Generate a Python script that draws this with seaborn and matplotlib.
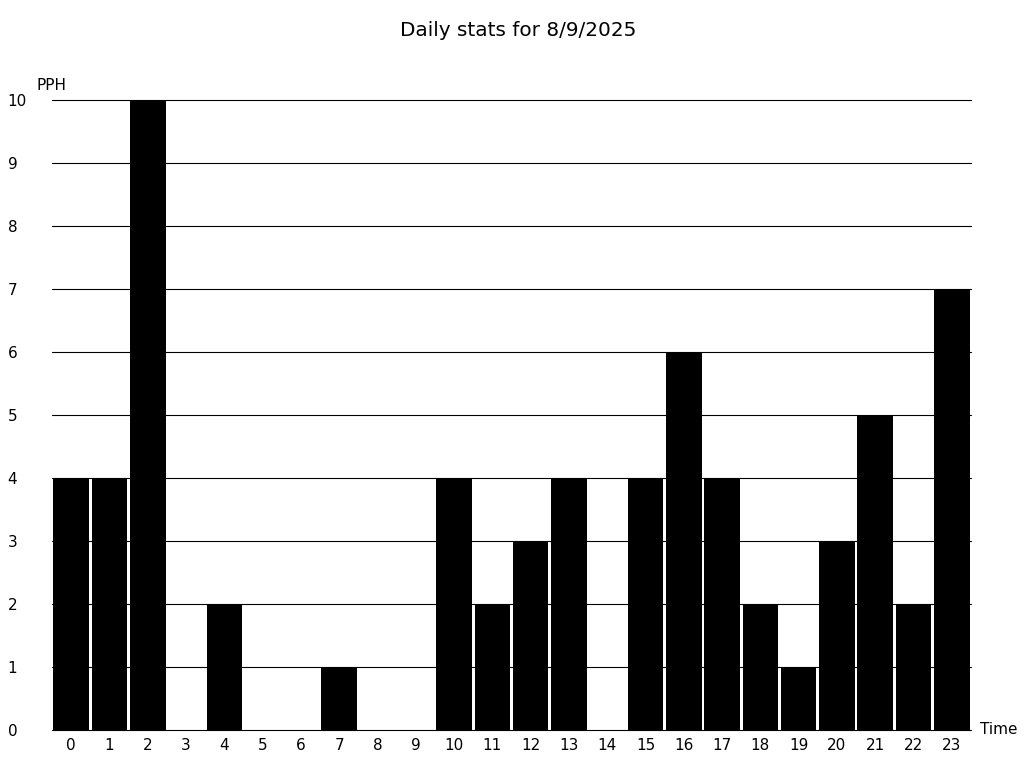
import pandas as pd
import matplotlib
matplotlib.use('Agg')
import matplotlib.pyplot as plt
import seaborn as sns

sns.set_style('white')
plt.rcParams['font.family'] = ['DejaVu Sans']
plt.rcParams['text.color'] = 'black'
plt.rcParams['xtick.color'] = 'black'
plt.rcParams['ytick.color'] = 'black'

hours = list(range(24))
pph = [4, 4, 10, 0, 2, 0, 0, 1, 0, 0, 4, 2, 3, 4, 0, 4, 6, 4, 2, 1, 3, 5, 2, 7]
y_ticks = list(range(11))

df = pd.DataFrame({'Time': hours, 'PPH': pph})

fig = plt.figure(figsize=(10.24, 7.68), dpi=100)
ax = fig.add_axes([52 / 1024, 1 - 730 / 768, 919 / 1024, 630 / 768])

sns.barplot(data=df, x='Time', y='PPH', color='black', saturation=1, width=0.93,
            edgecolor='none', ax=ax, zorder=3)

for v in y_ticks:
    ax.axhline(v, color='black', linewidth=0.8, zorder=1, clip_on=False)

ax.set_xlim(-0.5, 23.5)
ax.set_ylim(0, 10)
ax.set_yticks(y_ticks)
for s in ax.spines.values():
    s.set_visible(False)
ax.tick_params(axis='both', length=0, labelsize=11, labelcolor='black')
ax.tick_params(axis='y', pad=32)
for t in ax.get_yticklabels():
    t.set_horizontalalignment('left')
ax.tick_params(axis='x', pad=6)
ax.set_xlabel('')
ax.set_ylabel('')

fig.text(37 / 1024, 1 - 85 / 768, 'PPH', fontsize=11, va='center', ha='left')
fig.text(980 / 1024, 1 - 730 / 768, 'Time', fontsize=11, va='center', ha='left')
fig.text(0.506, 1 - 30 / 768, 'Daily stats for 8/9/2025', fontsize=14.4, va='center', ha='center')

fig.savefig('out.png', dpi=100)
